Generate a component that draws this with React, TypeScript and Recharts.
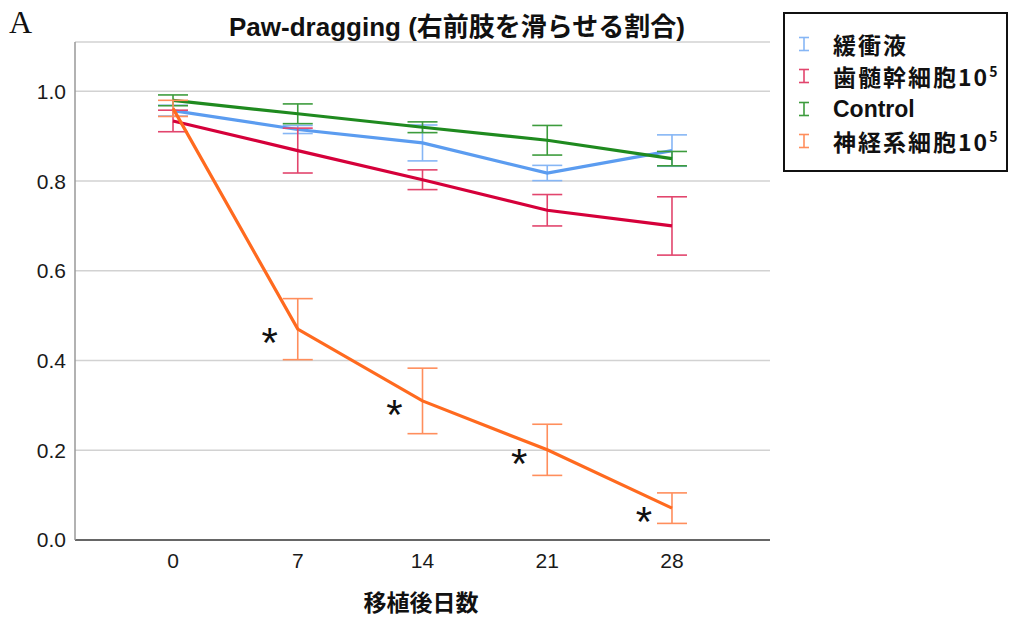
import React from "react";
import { ComposedChart, Line, XAxis, YAxis, CartesianGrid, ErrorBar, LabelList } from "recharts";

const days = [0, 7, 14, 21, 28];
const yTicks = [0, 0.2, 0.4, 0.6, 0.8, 1.0];

const bufferMean = [0.957, 0.915, 0.885, 0.818, 0.868];
const bufferErr = [0.012, 0.009, 0.04, 0.017, 0.035];
const dpscMean = [0.934, 0.868, 0.803, 0.735, 0.7];
const dpscErr = [0.024, 0.05, 0.022, 0.035, 0.065];
const controlMean = [0.98, 0.95, 0.92, 0.891, 0.85];
const controlErr = [0.012, 0.022, 0.012, 0.033, 0.016];
const neuralMean = [0.962, 0.47, 0.31, 0.201, 0.071];
const neuralErr = [0.018, 0.068, 0.073, 0.057, 0.034];
const neuralSig = ["", "*", "*", "*", "*"];

const seriesNames = ["緩衝液", "歯髄幹細胞10", "Control", "神経系細胞10"];
const seriesSup = ["", "5", "", "5"];
const seriesLatin = [false, false, true, false];
const lineColors = ["#5b9cf0", "#d5003a", "#1f8a1f", "#ff6a1f"];
const errColors = ["#86b6f5", "#e2456d", "#3d9c3d", "#ff8e5c"];

const data = days.map((d, i) => ({
  day: d,
  buffer: bufferMean[i],
  bufferErr: bufferErr[i],
  dpsc: dpscMean[i],
  dpscErr: dpscErr[i],
  control: controlMean[i],
  controlErr: controlErr[i],
  neural: neuralMean[i],
  neuralErr: neuralErr[i],
  sig: neuralSig[i],
}));

const keys = ["buffer", "dpsc", "control", "neural"];

const tickStyle = { fill: "#1a1a1a", fontSize: 21, fontFamily: "'Liberation Sans', Arial, sans-serif" };

const Star = (props: any) => {
  const { x, y, value } = props;
  if (!value) return null;
  return (
    <text x={x - 28} y={y + 28} textAnchor="middle" fontSize={42} fontFamily="'Liberation Sans', Arial, sans-serif" fill="#111">
      {value}
    </text>
  );
};

export default function App() {
  return (
    <div style={{ position: "absolute", left: 0, top: 0, width: 1012, height: 621, background: "#fff" }}>
      <div style={{ position: "absolute", left: 9, top: 2, fontFamily: "'Liberation Serif', serif", fontSize: 32, lineHeight: "40px", color: "#111" }}>A</div>
      <div style={{ position: "absolute", left: 0, width: 914, top: 12, lineHeight: "30px", textAlign: "center", fontFamily: "'Liberation Sans', 'Noto Sans CJK JP', sans-serif", fontWeight: 700, fontSize: 26, color: "#111", whiteSpace: "nowrap" }}>
        Paw-dragging (右前肢を滑らせる割合)
      </div>
      <ComposedChart width={1012} height={621} data={data} margin={{ top: 42, right: 242, bottom: 41, left: 0 }}>
        <CartesianGrid vertical={false} stroke="#d2d2d2" strokeWidth={1.5} />
        <XAxis
          dataKey="day"
          type="number"
          domain={[-5.5, 33.5]}
          ticks={days}
          height={40}
          tickLine={false}
          tickSize={0}
          tickMargin={13}
          axisLine={{ stroke: "#666", strokeWidth: 2 }}
          tick={tickStyle}
          interval={0}
        />
        <YAxis
          type="number"
          domain={[0, 1.11]}
          ticks={yTicks}
          width={75}
          tickLine={false}
          tickSize={0}
          tickMargin={9}
          axisLine={{ stroke: "#999", strokeWidth: 1.5 }}
          tick={tickStyle}
          tickFormatter={(v: number) => v.toFixed(1)}
        />
        {keys.map((k, i) => (
          <Line
            key={k}
            dataKey={k}
            stroke={lineColors[i]}
            strokeWidth={3.2}
            dot={false}
            activeDot={false}
            isAnimationActive={false}
            type="linear"
          >
            <ErrorBar dataKey={k + "Err"} width={15} stroke={errColors[i]} strokeWidth={1.6} direction="y" />
            {k === "neural" ? <LabelList dataKey="sig" content={Star} /> : null}
          </Line>
        ))}
      </ComposedChart>
      <div style={{ position: "absolute", left: 0, width: 842, top: 586, lineHeight: "30px", textAlign: "center", fontFamily: "'Noto Sans CJK JP', sans-serif", fontWeight: 700, fontSize: 23, color: "#111" }}>
        移植後日数
      </div>
      <div style={{ position: "absolute", left: 783, top: 12, width: 225, height: 160, border: "2px solid #111", boxSizing: "border-box", background: "#fff" }}>
        {seriesNames.map((n, i) => (
          <div key={n} style={{ position: "absolute", left: 12, top: 15 + i * 32.4, height: 30, display: "flex", alignItems: "center" }}>
            <svg width={14} height={16} style={{ marginRight: 22 }}>
              <line x1={2} y1={1.5} x2={12} y2={1.5} stroke={errColors[i]} strokeWidth={1.6} />
              <line x1={7} y1={1.5} x2={7} y2={14.5} stroke={errColors[i]} strokeWidth={1.6} />
              <line x1={2} y1={14.5} x2={12} y2={14.5} stroke={errColors[i]} strokeWidth={1.6} />
            </svg>
            <span
              style={{
                fontFamily: seriesLatin[i] ? "'Liberation Sans', sans-serif" : "'Noto Sans CJK JP', sans-serif",
                fontWeight: 700,
                fontSize: 23,
                lineHeight: "30px",
                color: "#111",
                whiteSpace: "nowrap",
                letterSpacing: seriesLatin[i] ? 0 : 2,
              }}
            >
              {n}
              {seriesSup[i] ? <sup style={{ fontSize: 14, lineHeight: "10px", letterSpacing: 0 }}>{seriesSup[i]}</sup> : null}
            </span>
          </div>
        ))}
      </div>
    </div>
  );
}
